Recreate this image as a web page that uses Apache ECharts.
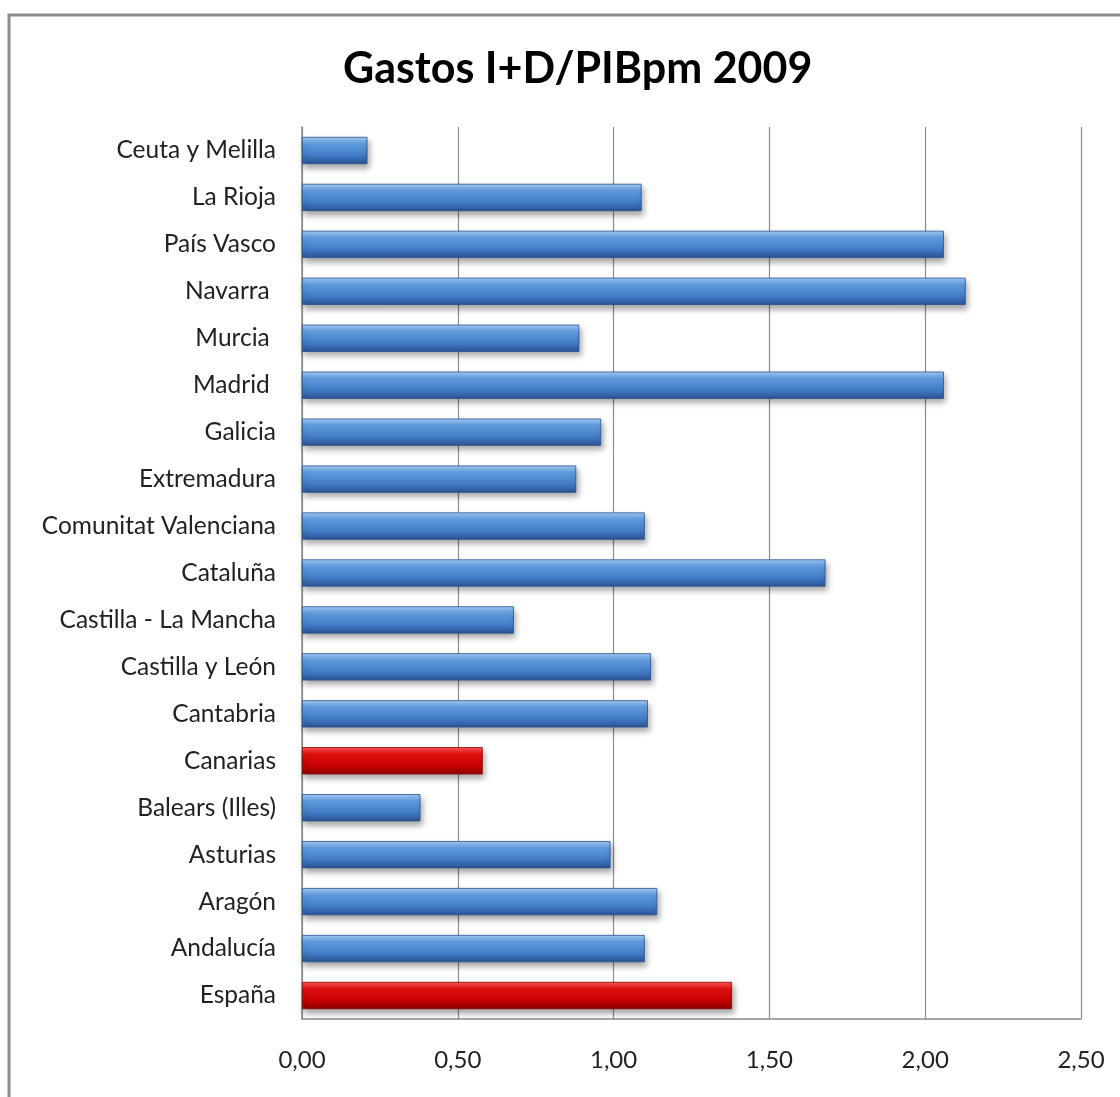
<!DOCTYPE html>
<html><head><meta charset="utf-8">
<script src="https://cdn.jsdelivr.net/npm/echarts@6/dist/echarts.min.js"></script>
<style>html,body{margin:0;padding:0;background:#fff}#c{width:1120px;height:1097px}</style>
</head><body><div id="c"></div>
<script>
const categories = ["Ceuta y Melilla","La Rioja","País Vasco","Navarra ","Murcia ","Madrid ","Galicia","Extremadura","Comunitat Valenciana","Cataluña","Castilla - La Mancha","Castilla y León","Cantabria","Canarias","Balears (Illes)","Asturias","Aragón","Andalucía","España"];
const values = [0.21,1.09,2.06,2.13,0.89,2.06,0.96,0.88,1.10,1.68,0.68,1.12,1.11,0.58,0.38,0.99,1.14,1.10,1.38];
const highlighted = ["Canarias","España"];
const xTicks = [0,0.5,1,1.5,2,2.5];

const blue = new echarts.graphic.LinearGradient(0,0,0,1,[
  {offset:0,color:'#a4cdf7'},{offset:0.25,color:'#629ee0'},{offset:0.7,color:'#4079c4'},{offset:1,color:'#2a5290'}]);
const red = new echarts.graphic.LinearGradient(0,0,0,1,[
  {offset:0,color:'#ff5a5a'},{offset:0.25,color:'#e41010'},{offset:0.7,color:'#c40000'},{offset:1,color:'#8a0000'}]);

const chart = echarts.init(document.getElementById('c'));
chart.setOption({
  backgroundColor:'#fff',
  animation:false,
  title:{text:'Gastos I+D/PIBpm 2009',left:338,top:43,
    textStyle:{fontFamily:'Lato',fontWeight:'bold',fontSize:43,color:'#000'}},
  graphic:[{type:'rect',shape:{x:9,y:15,width:1200,height:1200},
    style:{fill:'none',stroke:'#8c8c8c',lineWidth:3},silent:true,z:-1}],
  grid:{left:302,right:39,top:127,bottom:78},
  xAxis:{type:'value',min:0,max:2.5,interval:0.5,
    axisLine:{show:true,lineStyle:{color:'#8c8c8c',width:1.5}},
    axisTick:{show:false},
    splitLine:{show:true,lineStyle:{color:'#8c8c8c',width:1.2}},
    axisLabel:{margin:29,fontFamily:'Lato',fontSize:24,color:'#222',
      formatter:v=>v.toFixed(2).replace('.',',')}},
  yAxis:{type:'category',data:categories,inverse:true,
    axisLine:{show:true,lineStyle:{color:'#8c8c8c',width:1.5}},
    axisTick:{show:false},
    axisLabel:{margin:26,fontFamily:'Lato',fontSize:24.5,color:'#222',padding:[3,0,0,0]}},
  series:[{type:'bar',barCategoryGap:'42%',
    data:values.map((v,i)=>({value:v,itemStyle:{color:highlighted.includes(categories[i])?red:blue,
      borderColor:highlighted.includes(categories[i])?'#8a0000':'#2a5290',borderWidth:0.8}})),
    itemStyle:{shadowColor:'rgba(0,0,0,0.35)',shadowBlur:6,shadowOffsetX:2,shadowOffsetY:4}}]
});
</script></body></html>
